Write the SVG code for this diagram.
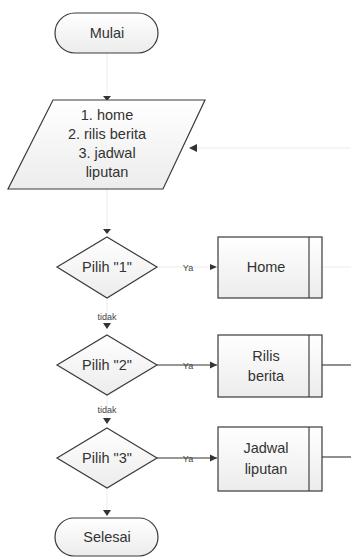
<svg xmlns="http://www.w3.org/2000/svg" width="351" height="559" viewBox="0 0 351 559">
<style>
.shape{fill:url(#g);stroke:#3a3a3a;stroke-width:1.2}
.t{font-family:"Liberation Sans",Arial,sans-serif;font-size:14.5px;fill:#333;text-anchor:middle;dominant-baseline:central}
.lbl{font-family:"Liberation Sans",Arial,sans-serif;font-size:9px;fill:#444;text-anchor:middle;dominant-baseline:central}
.c{fill:none;stroke:#333;stroke-width:1.1}
.cf{fill:none;stroke:#ececec;stroke-width:1}
</style>
<defs>
<linearGradient id="g" x1="0" y1="0" x2="0" y2="1">
<stop offset="0" stop-color="#ffffff"/>
<stop offset="1" stop-color="#ececec"/>
</linearGradient>
<marker id="a" markerWidth="8" markerHeight="8" refX="7" refY="4" orient="auto" markerUnits="userSpaceOnUse">
<path d="M0,0.5 L7,4 L0,7.5 Z" fill="#333"/>
</marker>
</defs>
<g id="connectors">
<path class="cf" d="M107,53 V95"/>
<path d="M103,96 L111,96 L107,101 Z" fill="#333"/>
<path class="cf" d="M107,189 V228"/>
<path d="M103,229 L111,229 L107,234 Z" fill="#333"/>
<path class="cf" d="M157,267 H212"/>
<path d="M210,264 L217,267 L210,270 Z" fill="#333"/>
<path class="cf" d="M107,298 V322"/>
<path d="M103,323 L111,323 L107,329 Z" fill="#333"/>
<path class="c" d="M157,365 H217" marker-end="url(#a)"/>
<path class="cf" d="M107,395 V418"/>
<path d="M103,418 L111,418 L107,424 Z" fill="#333"/>
<path class="c" d="M157,458 H217" marker-end="url(#a)"/>
<path class="cf" d="M107,488 V510"/>
<path d="M103,510 L111,510 L107,516 Z" fill="#333"/>
<path class="c" d="M322,365 H351"/>
<path class="c" d="M322,457 H351"/>
<path class="cf" d="M351,267 H322 M351,148 H194"/>
<path d="M197,144 L189,148 L197,152 Z" fill="#333"/>
<text class="lbl" x="188" y="268">Ya</text>
<text class="lbl" x="188" y="366">Ya</text>
<text class="lbl" x="188" y="459">Ya</text>
<text class="lbl" x="107" y="317">tidak</text>
<text class="lbl" x="107" y="410">tidak</text>
</g>
<g id="mulai">
<rect class="shape" x="55" y="13" width="103" height="40" rx="20"/>
<text class="t" x="107" y="33">Mulai</text>
</g>
<g id="input">
<polygon class="shape" points="53,100 205,100 163,189 8,189"/>
<text class="t" x="107" y="115">1. home</text>
<text class="t" x="107" y="134">2. rilis berita</text>
<text class="t" x="107" y="153">3. jadwal</text>
<text class="t" x="107" y="172">liputan</text>
</g>
<g id="pilih1">
<polygon class="shape" points="107,237 157,267 107,298 57,267"/>
<text class="t" x="107" y="267">Pilih "1"</text>
</g>
<g id="home">
<rect class="shape" x="218" y="237" width="104" height="61"/>
<line class="c" x1="309" y1="237" x2="309" y2="298"/>
<text class="t" x="266" y="267">Home</text>
</g>
<g id="pilih2">
<polygon class="shape" points="107,335 157,365 107,395 57,365"/>
<text class="t" x="107" y="365">Pilih "2"</text>
</g>
<g id="rilis">
<rect class="shape" x="218" y="335" width="104" height="62"/>
<line class="c" x1="309" y1="335" x2="309" y2="397"/>
<text class="t" x="266" y="356">Rilis</text>
<text class="t" x="266" y="376">berita</text>
</g>
<g id="pilih3">
<polygon class="shape" points="107,428 157,458 107,488 57,458"/>
<text class="t" x="107" y="458">Pilih "3"</text>
</g>
<g id="jadwal">
<rect class="shape" x="218" y="427" width="104" height="64"/>
<line class="c" x1="309" y1="427" x2="309" y2="491"/>
<text class="t" x="266" y="448">Jadwal</text>
<text class="t" x="266" y="469">liputan</text>
</g>
<g id="selesai">
<rect class="shape" x="55" y="518" width="103" height="38" rx="19"/>
<text class="t" x="107" y="537">Selesai</text>
</g>
</svg>
